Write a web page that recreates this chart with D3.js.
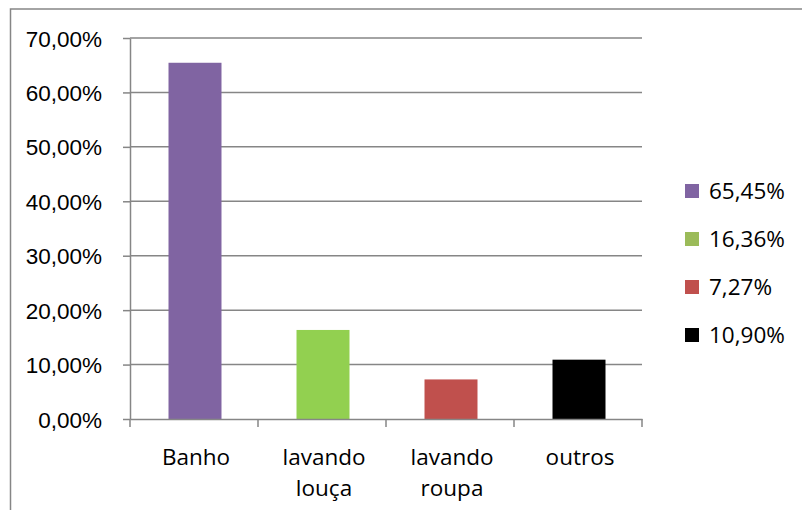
<!DOCTYPE html>
<html lang="pt">
<head>
<meta charset="UTF-8">
<title>Consumo de água</title>
<script src="https://d3js.org/d3.v7.min.js"></script>
<style>
  body { margin: 0; background: #fff; }
  svg { display: block; font-family: "Open Sans", sans-serif; }
  .grid line { stroke: #868686; stroke-width: 1.5; }
  .axis path, .axis line { stroke: #868686; stroke-width: 1.5; }
  .axis text { fill: #000; font-size: 22.5px; }
  .legend text { fill: #000; font-size: 22.5px; }
</style>
</head>
<body>
<svg id="chart" width="802" height="510"></svg>
<script>
  // dados
  const categorias = [["Banho"], ["lavando", "louça"], ["lavando", "roupa"], ["outros"]];
  const valores = [65.45, 16.36, 7.27, 10.90];
  const rotulosLegenda = ["65,45%", "16,36%", "7,27%", "10,90%"];
  const coresBarras = ["#8064A2", "#92D050", "#C0504D", "#000000"];
  const coresLegenda = ["#8064A2", "#9BBB59", "#C0504D", "#000000"];
  const ticksY = [0, 10, 20, 30, 40, 50, 60, 70];

  const svg = d3.select("#chart");
  const area = { left: 130, right: 642, top: 38, bottom: 419 };

  // moldura externa
  svg.append("path")
    .attr("d", "M 10.5 510 L 10.5 9 L 802 9")
    .attr("fill", "none")
    .attr("stroke", "#868686")
    .attr("stroke-width", 1.5);

  const chaves = categorias.map(c => c.join(" "));
  const x = d3.scaleBand().domain(chaves).range([area.left, area.right]).padding(0);
  const y = d3.scaleLinear().domain([0, 70]).range([area.bottom, area.top]);

  const fmt = v => v.toFixed(2).replace(".", ",") + "%";

  // linhas de grade
  svg.append("g").attr("class", "grid")
    .selectAll("line").data(ticksY.filter(t => t > 0)).join("line")
    .attr("x1", area.left).attr("x2", area.right)
    .attr("y1", d => y(d)).attr("y2", d => y(d));

  // barras
  const larg = x.bandwidth() * 0.414;
  svg.append("g").selectAll("rect").data(valores).join("rect")
    .attr("x", (d, i) => x(chaves[i]) + x.bandwidth() / 2 - larg / 2 + 1)
    .attr("width", larg)
    .attr("y", d => y(d))
    .attr("height", d => y(0) - y(d))
    .attr("fill", (d, i) => coresBarras[i]);

  // eixo Y
  const eixoY = svg.append("g").attr("class", "axis")
    .attr("transform", `translate(${area.left},0)`)
    .call(d3.axisLeft(y).tickValues(ticksY).tickFormat(fmt).tickSize(7).tickSizeOuter(0).tickPadding(21));
  eixoY.selectAll("text").attr("dy", "0.36em");

  // eixo X
  const eixoX = svg.append("g").attr("class", "axis")
    .attr("transform", `translate(0,${area.bottom})`)
    .call(d3.axisBottom(x).tickSize(0).tickSizeOuter(0).tickFormat(""));
  const limites = chaves.map(k => x(k)).concat([area.right]);
  eixoX.selectAll(".divisor").data(limites).join("line")
    .attr("class", "divisor")
    .attr("x1", d => d).attr("x2", d => d)
    .attr("y1", 0).attr("y2", 8);

  const rot = svg.append("g").attr("class", "axis");
  categorias.forEach((linhas, i) => {
    const cx = x(chaves[i]) + x.bandwidth() / 2 + 2;
    const t = rot.append("text")
      .attr("text-anchor", "middle")
      .attr("x", cx)
      .attr("y", 465);
    linhas.forEach((l, j) => {
      t.append("tspan")
        .attr("x", cx)
        .attr("dy", j === 0 ? 0 : 31)
        .text(l);
    });
  });

  // legenda
  const leg = svg.append("g").attr("class", "legend")
    .attr("transform", "translate(685,184)");
  const item = leg.selectAll("g").data(rotulosLegenda).join("g")
    .attr("transform", (d, i) => `translate(0,${i * 48})`);
  item.append("rect")
    .attr("width", 14).attr("height", 14)
    .attr("fill", (d, i) => coresLegenda[i]);
  item.append("text")
    .attr("x", 24).attr("y", 7).attr("dy", "0.36em")
    .text(d => d);
</script>
</body>
</html>
